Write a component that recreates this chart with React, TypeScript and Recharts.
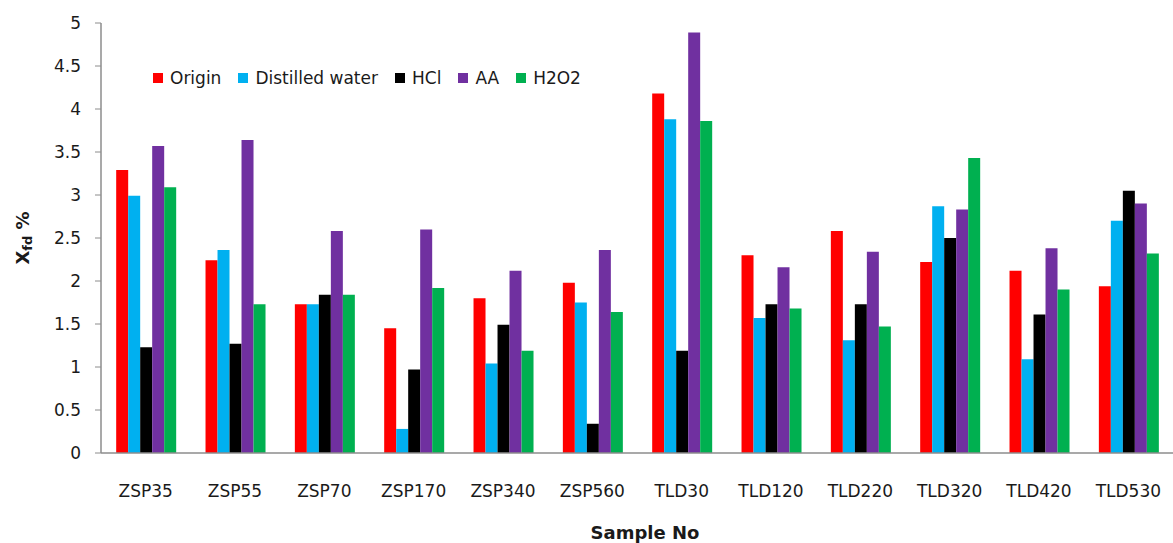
import React from 'react';
import { BarChart, Bar, XAxis, YAxis } from 'recharts';

const categories = ['ZSP35', 'ZSP55', 'ZSP70', 'ZSP170', 'ZSP340', 'ZSP560', 'TLD30', 'TLD120', 'TLD220', 'TLD320', 'TLD420', 'TLD530'];
const origin = [3.29, 2.24, 1.73, 1.45, 1.80, 1.98, 4.18, 2.30, 2.58, 2.22, 2.12, 1.94];
const distilledWater = [2.99, 2.36, 1.73, 0.28, 1.04, 1.75, 3.88, 1.57, 1.31, 2.87, 1.09, 2.70];
const hcl = [1.23, 1.27, 1.84, 0.97, 1.49, 0.34, 1.19, 1.73, 1.73, 2.50, 1.61, 3.05];
const aa = [3.57, 3.64, 2.58, 2.60, 2.12, 2.36, 4.89, 2.16, 2.34, 2.83, 2.38, 2.90];
const h2o2 = [3.09, 1.73, 1.84, 1.92, 1.19, 1.64, 3.86, 1.68, 1.47, 3.43, 1.90, 2.32];
const yTicks = [0, 0.5, 1, 1.5, 2, 2.5, 3, 3.5, 4, 4.5, 5];

const seriesList = [
  { key: 'origin', name: 'Origin', color: '#FF0000', values: origin },
  { key: 'dw', name: 'Distilled water', color: '#00B0F0', values: distilledWater },
  { key: 'hcl', name: 'HCl', color: '#000000', values: hcl },
  { key: 'aa', name: 'AA', color: '#7030A0', values: aa },
  { key: 'h2o2', name: 'H2O2', color: '#00B050', values: h2o2 },
];

const data = categories.map((c, i) => {
  const row: Record<string, number | string> = { name: c };
  seriesList.forEach((s) => { row[s.key] = s.values[i]; });
  return row;
});

const FONT = '"DejaVu Sans", sans-serif';
const TEXT = '#1a1a1a';

const LegendBox = () => (
  <div
    style={{
      position: 'absolute', left: 153, top: 68, display: 'flex', alignItems: 'center',
      fontFamily: FONT, fontSize: 17, color: TEXT, lineHeight: '20px', whiteSpace: 'nowrap',
    }}
  >
    {seriesList.map((s) => (
      <div key={s.key} style={{ display: 'flex', alignItems: 'center', marginRight: 17 }}>
        <span style={{ display: 'inline-block', width: 10, height: 10, background: s.color, marginRight: 7 }} />
        <span>{s.name}</span>
      </div>
    ))}
  </div>
);

const YLabel = (props: any) => {
  const vb = props.viewBox || {};
  const cx = 22;
  const cy = (vb.y ?? 23) + (vb.height ?? 430) / 2;
  return (
    <text
      x={cx}
      y={cy}
      transform={`rotate(-90, ${cx}, ${cy})`}
      textAnchor="middle"
      dominantBaseline="central"
      fontFamily={FONT}
      fontWeight="bold"
      fontSize={18}
      fill={TEXT}
    >
      <tspan>X</tspan>
      <tspan fontSize={13} dy={5}>fd</tspan>
      <tspan dy={-5}> %</tspan>
    </text>
  );
};

export default function App() {
  return (
    <div style={{ position: 'absolute', left: 0, top: 0, width: 1173, height: 543, background: '#fff' }}>
      <BarChart
        width={1173}
        height={543}
        data={data}
        margin={{ top: 23, right: 0, left: 0, bottom: 0 }}
        barCategoryGap="17%"
        barGap={0}
      >
        <XAxis
          dataKey="name"
          height={90}
          tickLine={false}
          axisLine={{ stroke: '#8c8c8c', strokeWidth: 1.5 }}
          tick={{ fill: TEXT, fontSize: 17, fontFamily: FONT }}
          tickMargin={26}
          interval={0}
          label={{ value: 'Sample No', position: 'insideBottom', offset: 4, dx: 8, fill: TEXT, fontSize: 18, fontWeight: 'bold', fontFamily: FONT }}
        />
        <YAxis
          width={101}
          domain={[0, 5]}
          ticks={yTicks}
          interval={0}
          tickSize={6}
          tickMargin={14}
          axisLine={{ stroke: '#8c8c8c', strokeWidth: 1.5 }}
          tickLine={{ stroke: '#8c8c8c' }}
          tick={{ fill: TEXT, fontSize: 17, fontFamily: FONT }}
          label={<YLabel />}
        />
        {seriesList.map((s) => (
          <Bar key={s.key} dataKey={s.key} name={s.name} fill={s.color} isAnimationActive={false} />
        ))}
      </BarChart>
      <LegendBox />
    </div>
  );
}
